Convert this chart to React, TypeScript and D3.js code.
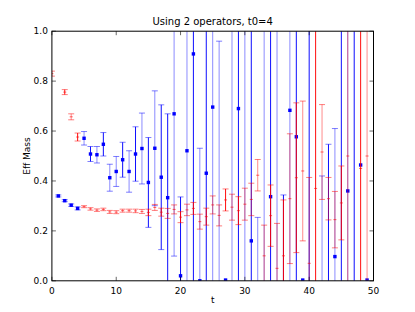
import React from 'react';
import * as d3 from 'd3';

// time slices
const tValues = d3.range(0, 50);

// blue series (null = no point)
const blueVal = [
  null, 0.340, 0.321, 0.303, 0.290, 0.571, 0.508, 0.505, 0.547, 0.413,
  0.438, 0.485, 0.438, 0.508, 0.530, 0.394, 0.531, 0.415, 0.333, 0.669,
  0.020, 0.521, 0.909, 0.000, 0.431, 0.696, -0.100, 0.003, 1.300, 0.690,
  -0.300, 0.160, -0.100, 1.200, 0.337, -0.400, -0.050, 0.683, 0.577, 0.003,
  1.300, null, -0.100, -0.100, 0.097, 1.200, 0.360, -0.300, 0.464, 0.003,
];
const blueErr = [
  0, 0.004, 0.004, 0.005, 0.006, 0.027, 0.030, 0.033, 0.047, 0.054,
  0.060, 0.070, 0.083, 0.109, 0.142, 0.180, 0.230, 0.290, 0.336, 0.570,
  0.316, 0.600, 1.200, 0.531, 0.900, 0.800, 1.060, 0, 1.500, 0.900,
  1.500, 1.000, 0.354, 1.400, 0.900, 1.600, 0.394, 1.000, 0.900, 0,
  1.500, 0, 0.520, 0.647, 0.513, 1.500, 1.000, 1.500, 0, 0,
];
// slices where the blue bars look solid rather than faded
const blueSolid = [1, 2, 3, 4, 6, 8, 11, 13, 15, 17, 18, 20, 22, 24, 27, 29, 31, 34, 36, 38, 40, 43, 45, 47, 48];

// red series
const redVal = [
  0.830, null, 0.756, 0.657, 0.576, 0.297, 0.288, 0.283, 0.286, 0.276,
  0.275, 0.281, 0.281, 0.280, 0.278, 0.274, 0.294, 0.275, 0.270, 0.286,
  0.255, 0.284, 0.290, 0.237, 0.257, 0.304, 0.262, 0.324, 0.295, 0.281,
  0.307, 0.326, 0.423, 0.100, 0.261, 0.050, 0.100, 0.329, 0.413, 0.440,
  0.070, 0.370, 0.516, 0.329, 0.245, 0.312, 0.500, null, 0.450, 0.500,
];
const redErr = [
  0.010, 0, 0.010, 0.012, 0.016, 0.004, 0.005, 0.005, 0.005, 0.006,
  0.006, 0.006, 0.006, 0.007, 0.008, 0.013, 0.012, 0.016, 0.020, 0.018,
  0.022, 0.023, 0.024, 0.030, 0.034, 0.036, 0.042, 0.044, 0.052, 0.056,
  0.064, 0.065, 0.063, 0.123, 0.123, 0.180, 0.224, 0.260, 0.300, 0.280,
  0.344, 1.000, 0.190, 0.085, 0.113, 0.148, 1.000, 0, 1.000, 1.000,
];
const redSolid = [2, 4, 15, 17, 20, 22, 24, 27, 29, 34, 36, 38, 41, 45, 48];

const xTicks = [0, 10, 20, 30, 40, 50];
const yTicks = [0, 0.2, 0.4, 0.6, 0.8, 1.0];

const W = 415;
const H = 312;
const margin = { left: 51.9, right: 41.5, top: 31.2, bottom: 31.2 };

const x = d3.scaleLinear().domain([0, 50]).range([margin.left, W - margin.right]);
const y = d3.scaleLinear().domain([0, 1]).range([H - margin.bottom, margin.top]);

const font = 'DejaVu Sans, sans-serif';

type Pt = { t: number; v: number; e: number; solid: boolean };

function series(vals: (number | null)[], errs: number[], solid: number[]): Pt[] {
  return tValues
    .filter(t => vals[t] !== null)
    .map(t => ({ t, v: vals[t] as number, e: errs[t], solid: solid.includes(t) }));
}

const blue = series(blueVal, blueErr, blueSolid);
const red = series(redVal, redErr, redSolid);

function ErrBars({ data, color, marker }: { data: Pt[]; color: string; marker: 'square' | 'dash' }) {
  const cap = 3;
  return (
    <g clipPath="url(#plotClip)">
      {data.map(d => {
        const px = x(d.t);
        const op = d.solid ? 0.95 : 0.45;
        const lo = y(d.v - d.e);
        const hi = y(d.v + d.e);
        return (
          <g key={d.t}>
            {d.e > 0 && (
              <>
                <line x1={px} x2={px} y1={lo} y2={hi} stroke={color} strokeWidth={1} opacity={op} />
                <line x1={px - cap} x2={px + cap} y1={lo} y2={lo} stroke={color} strokeWidth={1} opacity={0.5} />
                <line x1={px - cap} x2={px + cap} y1={hi} y2={hi} stroke={color} strokeWidth={1} opacity={0.5} />
              </>
            )}
            {marker === 'square' ? (
              <rect x={px - 1.7} y={y(d.v) - 1.7} width={3.4} height={3.4} fill={color} />
            ) : (
              <line x1={px - 1.5} x2={px + 1.5} y1={y(d.v)} y2={y(d.v)} stroke={color} strokeWidth={1} opacity={0.6} />
            )}
          </g>
        );
      })}
    </g>
  );
}

export default function App() {
  const x0 = margin.left;
  const x1 = W - margin.right;
  const y0 = H - margin.bottom;
  const y1 = margin.top;
  return (
    <svg width={W} height={H} style={{ position: 'absolute', left: 0, top: 0, background: '#fff' }}>
      <defs>
        <clipPath id="plotClip">
          <rect x={x0} y={y1} width={x1 - x0} height={y0 - y1} />
        </clipPath>
      </defs>
      <rect x={0} y={0} width={W} height={H} fill="#fff" />
      <ErrBars data={blue} color="#0000ff" marker="square" />
      <ErrBars data={red} color="#ff0000" marker="dash" />
      <rect x={x0} y={y1} width={x1 - x0} height={y0 - y1} fill="none" stroke="#000" strokeWidth={1} />
      {xTicks.map(t => (
        <g key={'x' + t}>
          <line x1={x(t)} x2={x(t)} y1={y0} y2={y0 - 4} stroke="#000" strokeWidth={0.6} />
          <line x1={x(t)} x2={x(t)} y1={y1} y2={y1 + 4} stroke="#000" strokeWidth={0.6} />
          <text x={x(t)} y={y0 + 13} textAnchor="middle" fontFamily={font} fontSize={9}>
            {t}
          </text>
        </g>
      ))}
      {yTicks.map(v => (
        <g key={'y' + v}>
          <line x1={x0} x2={x0 + 4} y1={y(v)} y2={y(v)} stroke="#000" strokeWidth={0.6} />
          <line x1={x1} x2={x1 - 4} y1={y(v)} y2={y(v)} stroke="#000" strokeWidth={0.6} />
          <text x={x0 - 4} y={y(v) + 3.2} textAnchor="end" fontFamily={font} fontSize={9}>
            {d3.format('.1f')(v)}
          </text>
        </g>
      ))}
      <text x={(x0 + x1) / 2} y={y0 + 22} textAnchor="middle" fontFamily={font} fontSize={9}>
        t
      </text>
      <text
        transform={`translate(${x0 - 22},${(y0 + y1) / 2}) rotate(-90)`}
        textAnchor="middle"
        fontFamily={font}
        fontSize={9}
      >
        Eff Mass
      </text>
      <text x={(x0 + x1) / 2} y={y1 - 6} textAnchor="middle" fontFamily={font} fontSize={10}>
        Using 2 operators, t0=4
      </text>
    </svg>
  );
}
